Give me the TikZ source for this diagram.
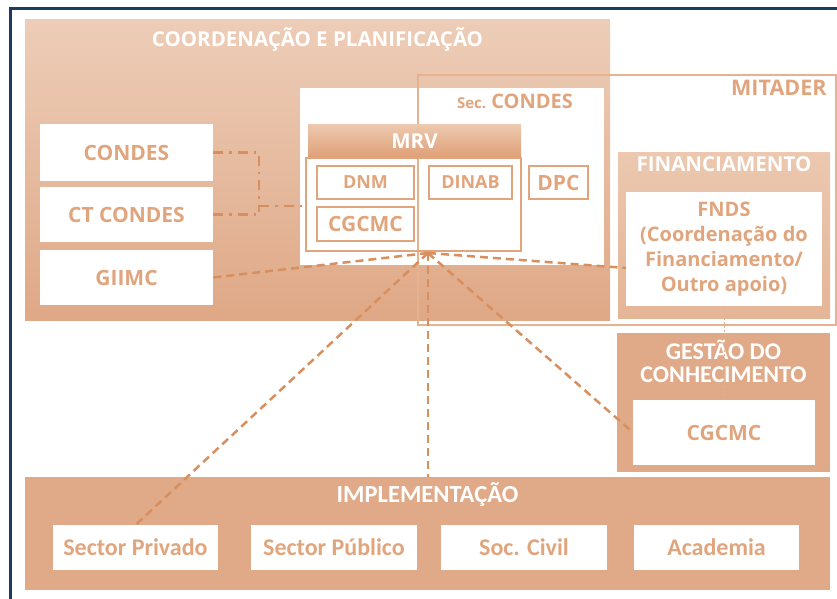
\documentclass[tikz,border=0pt]{standalone}
\usepackage{fontspec}
\setmainfont{Open Sans}
\newfontfamily\calib{Carlito}
\usetikzlibrary{positioning}

\definecolor{frameblue}{HTML}{203864}
\definecolor{panellight}{HTML}{EDCDB8}
\definecolor{paneldark}{HTML}{DFA886}
\definecolor{panelfill}{HTML}{E0AA88}
\definecolor{finlight}{HTML}{EBC8AF}
\definecolor{findark}{HTML}{E5B597}
\definecolor{mrvlight}{HTML}{EDCAB1}
\definecolor{mrvdark}{HTML}{DF9E75}
\definecolor{txtorange}{HTML}{E1A57D}
\definecolor{lineorange}{HTML}{D98F5D}

\tikzset{
	panel/.style={anchor=north west,inner sep=0pt,outer sep=0pt},
	wbox/.style={fill=white,anchor=north west,inner sep=0pt,outer sep=0pt,text=txtorange,align=center,font=\bfseries\fontsize{21}{25}\selectfont},
	obox/.style={draw=txtorange,line width=2pt,fill=white,anchor=north west,inner sep=0pt,outer sep=0pt,text=txtorange,font=\bfseries\fontsize{18}{20}\selectfont},
	ibox/.style={wbox,font=\calib\bfseries\fontsize{24}{26}\selectfont},
	paneltitle/.style={text=white,align=center,font=\bfseries\fontsize{20.5}{23}\selectfont},
	link/.style={draw=lineorange,line width=2.5pt,dash pattern=on 8pt off 5pt},
	dotlink/.style={draw=lineorange,line width=2.8pt,dash pattern=on 10pt off 6pt on 2.5pt off 6pt},
	thinlink/.style={draw=lineorange!70,line width=0.7pt,dash pattern=on 2pt off 2pt},
}

\begin{document}
\begin{tikzpicture}[x=1pt,y=-1pt]
	\useasboundingbox (0,0) rectangle (837,599);
	\draw[frameblue,line width=3pt] (10,9) rectangle (860,620);

	% panels
	\node[panel,top color=panellight,bottom color=paneldark,minimum width=585pt,minimum height=300pt] (coord) at (25,20) {};
	\node[panel,fill=panelfill,minimum width=805pt,minimum height=113pt] (impl) at (25,477) {};
	\node[panel,fill=panelfill,minimum width=213pt,minimum height=139pt] (gestao) at (617,333) {};
	\node[panel,fill=white,minimum width=304pt,minimum height=177pt] (seccondes) at (300,88) {};
	\node[panel,top color=finlight,bottom color=findark,minimum width=212pt,minimum height=166pt] (financ) at (618,152) {};

	\node[paneltitle] at (coord.north) [below=4pt] {COORDENAÇÃO E PLANIFICAÇÃO};
	\node[paneltitle] at (financ.north) [below=1pt] {FINANCIAMENTO};
	\node[paneltitle,font=\calib\bfseries\fontsize{24}{23}\selectfont] at (gestao.north) [below=3pt] {GESTÃO DO\\CONHECIMENTO};
	\node[paneltitle,font=\calib\bfseries\fontsize{24.5}{26}\selectfont] at (impl.north) [below=2pt] {IMPLEMENTAÇÃO};
	\node[text=txtorange,font=\bfseries] at (515,101) {\fontsize{15}{17}\selectfont Sec. \fontsize{20}{22}\selectfont CONDES};

	% MITADER
	\node[panel,draw=txtorange!85,line width=1.5pt,minimum width=418pt,minimum height=250pt] (mitader) at (418,75) {};
	\node[text=txtorange,font=\bfseries\fontsize{21.5}{23}\selectfont] at (mitader.north east) [below left=2pt and 6pt] {MITADER};

	% MRV
	\node[panel,top color=mrvlight,bottom color=mrvdark,minimum width=213pt,minimum height=34pt] (mrvhead) at (308,124) {};
	\node[paneltitle] at (mrvhead) {MRV};
	\node[panel,draw=txtorange,line width=1.2pt,minimum width=215pt,minimum height=93pt] (mrvbox) at (306,158) {};

	% boxes
	\node[wbox,minimum width=173pt,minimum height=57pt] (condes) at (40,124) {CONDES};
	\node[wbox,minimum width=173pt,minimum height=55pt] (ctcondes) at (40,187) {CT CONDES};
	\node[wbox,minimum width=173pt,minimum height=55pt] (giimc) at (40,250) {GIIMC};
	\node[obox,minimum width=97pt,minimum height=33pt] (dnm) at (317,166) {DNM};
	\node[obox,minimum width=97pt,minimum height=34pt,font=\bfseries\fontsize{21}{23}\selectfont] (cgcmc) at (317,207) {CGCMC};
	\node[obox,minimum width=83pt,minimum height=33pt] (dinab) at (429,166) {DINAB};
	\node[obox,minimum width=59pt,minimum height=33pt,font=\bfseries\fontsize{21}{23}\selectfont] (dpc) at (529,166) {DPC};
	\node[wbox,minimum width=196pt,minimum height=114pt,font=\bfseries\fontsize{20}{25}\selectfont] (fnds) at (626,192) {FNDS\\(Coordenação do\\Financiamento/\\Outro apoio)};
	\node[wbox,minimum width=182pt,minimum height=65pt] (gcbox) at (633,400) {CGCMC};
	\node[ibox,minimum width=165pt,minimum height=45pt] (privado) at (53,525) {Sector Privado};
	\node[ibox,minimum width=166pt,minimum height=45pt] (publico) at (251,525) {Sector Público};
	\node[ibox,minimum width=166pt,minimum height=45pt] (civil) at (441,525) {Soc. Civil};
	\node[ibox,minimum width=165pt,minimum height=45pt] (academia) at (634,525) {Academia};

	% connectors
	\coordinate (hub) at (428,253);
	\coordinate (junc) at (259,206);
	\draw[dotlink] (condes.east) -| (junc);
	\draw[dotlink] (ctcondes.east) -| (junc);
	\draw[dotlink] (junc) -- (junc -| mrvbox.west);
	\draw[link] (hub) -- (giimc.east);
	\draw[link] (hub) -- ([yshift=-19pt]fnds.west);
	\draw[link] (hub) -- (privado.north);
	\draw[link] (hub) -- (hub |- impl.north);
	\draw[link] (hub) -- (gcbox.west);
	\draw[thinlink] (fnds.south) -- (gcbox.north);
\end{tikzpicture}
\end{document}
